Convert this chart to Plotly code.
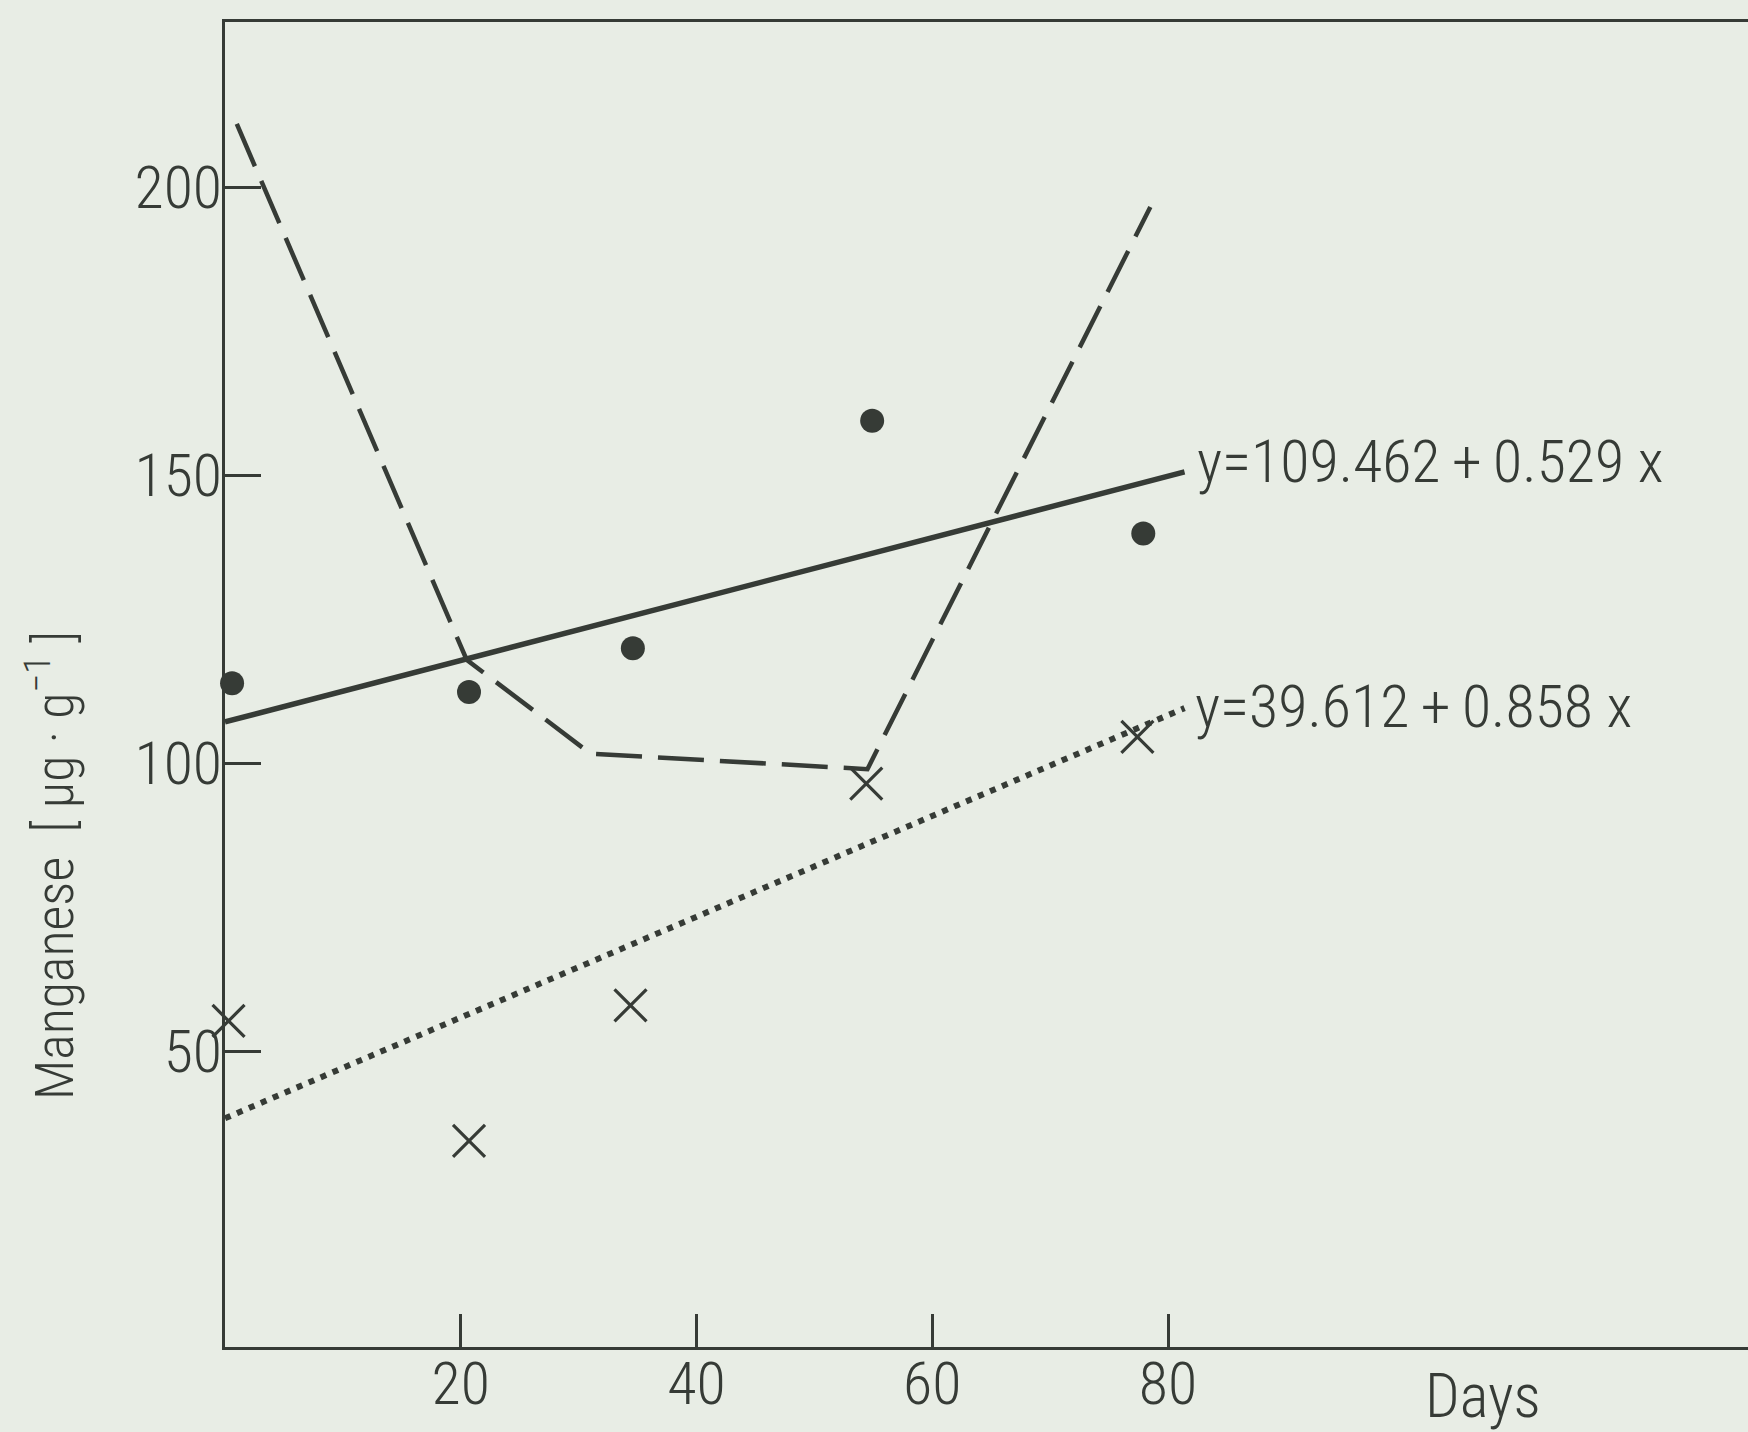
import plotly.graph_objects as go

# ---- data ----
dot_days = [0.6, 20.7, 34.6, 54.9, 77.9]
dot_vals = [113.9, 112.4, 120.0, 159.5, 139.9]

cross_days = [0.3, 20.7, 34.4, 54.4, 77.4]
cross_vals = [55.3, 34.5, 58.0, 96.5, 104.6]

solid_days = [0, 81.4]
solid_vals = [107.2, 150.6]

dotted_days = [0, 81.4]
dotted_vals = [38.4, 109.6]

dashed_days = [1, 20.5, 31, 54.5, 78.5]
dashed_vals = [211, 118, 101.7, 99, 196.6]

x_ticks = [20, 40, 60, 80]
y_ticks = [50, 100, 150, 200]

eq_solid = "y=109.462\u2009+\u20090.529 x"
eq_dotted = "y=39.612\u2009+\u20090.858 x"

INK = "#363b36"
BG = "#e8ede5"
FONT = "Roboto Condensed, Liberation Sans Narrow, DejaVu Sans Condensed, Liberation Sans, sans-serif"

W, H = 1748, 1432
ML, MR, MT, MB = 225, 0, 22, 85
PW, PH = W - ML - MR, H - MT - MB

fig = go.Figure()

fig.add_trace(go.Scatter(x=dashed_days, y=dashed_vals, mode="lines",
                         line=dict(color=INK, width=4.5, dash="46px,16px"),
                         cliponaxis=False, showlegend=False))
fig.add_trace(go.Scatter(x=solid_days, y=solid_vals, mode="lines",
                         line=dict(color=INK, width=5.5),
                         cliponaxis=False, showlegend=False))
fig.add_trace(go.Scatter(x=dotted_days, y=dotted_vals, mode="lines",
                         line=dict(color=INK, width=6, dash="6px,7px"),
                         cliponaxis=False, showlegend=False))
fig.add_trace(go.Scatter(x=dot_days, y=dot_vals, mode="markers",
                         marker=dict(symbol="circle", size=24, color=INK),
                         cliponaxis=False, showlegend=False))
fig.add_trace(go.Scatter(x=cross_days, y=cross_vals, mode="markers",
                         marker=dict(symbol="x-thin", size=32,
                                     line=dict(color=INK, width=3.2)),
                         cliponaxis=False, showlegend=False))

def px_x(px):
    return (px - ML) / PW

def px_y(py):
    return (H - MB - py) / PH

annotations = [
    dict(text=eq_solid, x=solid_days[-1], y=solid_vals[-1], xref="x", yref="y",
         xanchor="left", yanchor="middle", xshift=10, yshift=10, showarrow=False,
         font=dict(family=FONT, size=60, color=INK, weight=300)),
    dict(text=eq_dotted, x=dotted_days[-1], y=dotted_vals[-1], xref="x", yref="y",
         xanchor="left", yanchor="middle", xshift=8, yshift=2, showarrow=False,
         font=dict(family=FONT, size=60, color=INK, weight=300)),
    dict(text="Days", x=px_x(1483), y=px_y(1396), xref="paper", yref="paper",
         xanchor="center", yanchor="middle", showarrow=False,
         font=dict(family=FONT, size=61, color=INK, weight=300)),
    dict(text="Manganese  [ µg · g<sup>−1</sup> ]", x=px_x(50), y=px_y(866),
         xref="paper", yref="paper", xanchor="center", yanchor="middle",
         textangle=-90, showarrow=False,
         font=dict(family=FONT, size=54, color=INK, weight=300)),
]

fig.update_layout(
    width=W, height=H,
    margin=dict(l=ML, r=MR, t=MT, b=MB, pad=0),
    paper_bgcolor=BG, plot_bgcolor=BG,
    font=dict(family=FONT, size=54, color=INK, weight=300),
    annotations=annotations,
    xaxis=dict(range=[0, 129.2], tickvals=x_ticks, ticks="inside", ticklen=33,
               tickwidth=2.5, tickcolor=INK, showline=True, linewidth=3,
               linecolor=INK, mirror=True, showgrid=False, zeroline=False,
               ticklabelstandoff=-18,
               tickfont=dict(family=FONT, size=60, color=INK, weight=300)),
    yaxis=dict(range=[-1.3, 228.7], tickvals=y_ticks, ticks="inside", ticklen=36,
               tickwidth=2.5, tickcolor=INK, showline=True, linewidth=3,
               linecolor=INK, mirror=False, showgrid=False, zeroline=False,
               ticklabelstandoff=-12,
               tickfont=dict(family=FONT, size=60, color=INK, weight=300)),
)

fig.write_html(
    "out.html",
    config={"displayModeBar": False},
    post_script="document.body.style.margin='0';document.body.style.overflow='hidden';"
                "document.body.style.background='" + BG + "';",
)
